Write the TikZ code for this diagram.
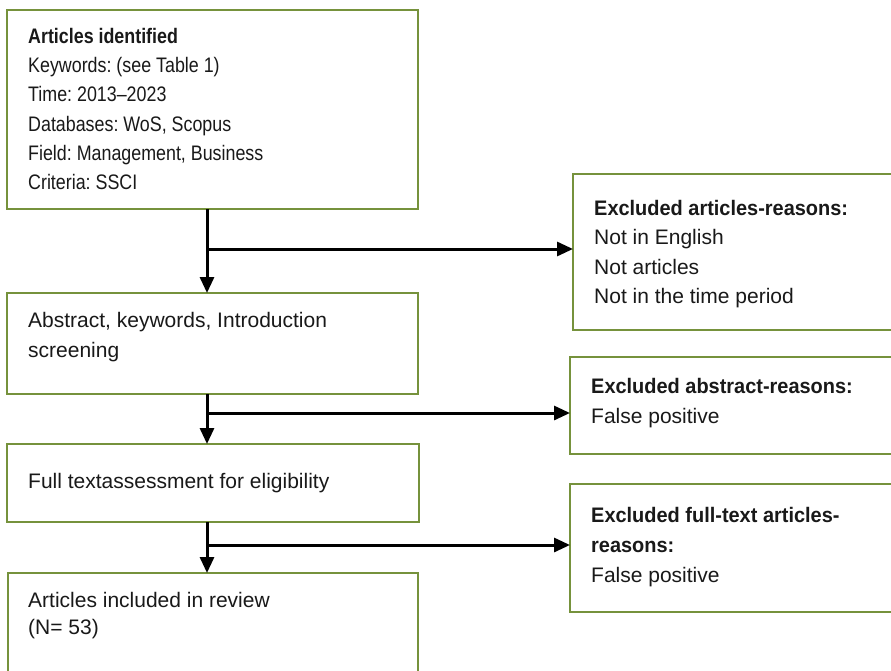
\documentclass[tikz,border=0pt]{standalone}
\usepackage{fontspec}
\setmainfont{Liberation Sans}
\newfontfamily\narrowfont{Liberation Sans}[FakeStretch=0.85]
\newfontfamily\exfont{Liberation Sans}[FakeStretch=0.95]
\frenchspacing
\usetikzlibrary{arrows.meta}
\definecolor{boxgreen}{RGB}{118,146,60}
\definecolor{txt}{RGB}{25,25,25}
\begin{document}
\begin{tikzpicture}[x=1pt,y=-1pt,
  box/.style={draw=boxgreen, line width=2.5pt, anchor=north west, outer sep=0pt, inner sep=0pt, fill=white},
  lbl/.style={anchor=west, align=left, inner sep=0pt, text=txt},
  conn/.style={line width=3pt, -{Triangle[width=14pt,length=16pt]}}]
\useasboundingbox (0,0) rectangle (891,670);
\clip (0,0) rectangle (891,670);
% boxes
\node[box, minimum width=411pt, minimum height=199pt] (b1) at (7,10) {};
\node[box, minimum width=411pt, minimum height=101pt] (b2) at (7,293) {};
\node[box, minimum width=412pt, minimum height=78pt] (b3) at (7,444) {};
\node[box, minimum width=410pt, minimum height=130pt] (b4) at (8,573) {};
\node[box, minimum width=340pt, minimum height=156pt] (e1) at (573,174) {};
\node[box, minimum width=340pt, minimum height=97pt] (e2) at (570,357) {};
\node[box, minimum width=340pt, minimum height=128pt] (e3) at (570,484) {};
% texts
\node[lbl, font=\narrowfont\fontsize{21}{29.2}\selectfont] (t1) at (28,109)
  {\textbf{Articles identified}\\Keywords: (see Table 1)\\Time: 2013–2023\\Databases: WoS, Scopus\\Field: Management, Business\\Criteria: SSCI};
\node[lbl, font=\fontsize{21}{30}\selectfont] (t2) at (28,337)
  {Abstract, keywords, Introduction\\screening};
\node[lbl, font=\fontsize{21}{30}\selectfont] (t3) at (28,483)
  {Full textassessment for eligibility};
\node[lbl, font=\fontsize{21}{27}\selectfont] (t4) at (28,616)
  {Articles included in review\\(N= 53)};
\node[lbl, font=\fontsize{21}{29.3}\selectfont] (t5) at (594,254)
  {{\exfont\bfseries Excluded articles-reasons:}\\Not in English\\Not articles\\Not in the time period};
\node[lbl, font=\fontsize{21}{30}\selectfont] (t6) at (591,403)
  {{\exfont\bfseries Excluded abstract-reasons:}\\False positive};
\node[lbl, font=\fontsize{21}{30}\selectfont] (t7) at (591,547)
  {{\exfont\bfseries Excluded full-text articles-}\\{\exfont\bfseries reasons:}\\False positive};
% connectors
\coordinate (v) at (207,0);
\coordinate (j1) at (207,249);
\coordinate (j2) at (207,413);
\coordinate (j3) at (207,545);
\draw[conn] (b1.south -| v) -- (b2.north -| v);
\draw[conn] (b2.south -| v) -- (b3.north -| v);
\draw[conn] (b3.south -| v) -- (b4.north -| v);
\draw[conn] (j1) -- (e1.west |- j1);
\draw[conn] (j2) -- (e2.west |- j2);
\draw[conn] (j3) -- (e3.west |- j3);
\end{tikzpicture}
\end{document}
